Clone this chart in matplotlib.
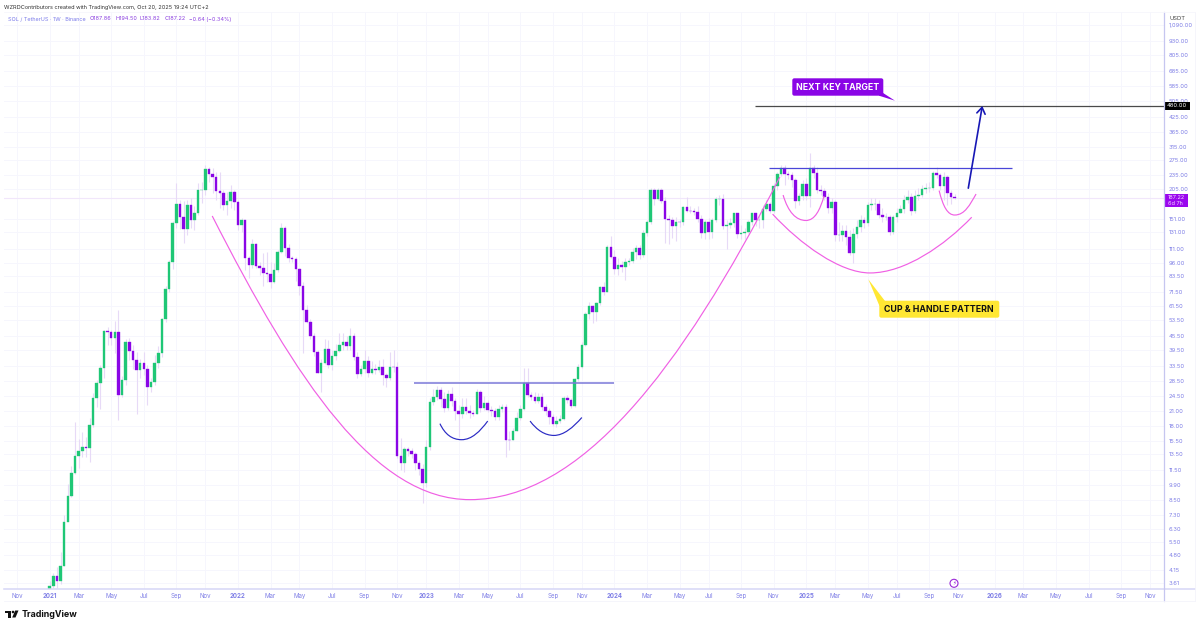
import matplotlib
matplotlib.use("Agg")
import matplotlib.pyplot as plt
import numpy as np
from matplotlib.path import Path
from matplotlib.patches import PathPatch, FancyBboxPatch, Polygon, Rectangle, Circle
from matplotlib.transforms import Affine2D

plt.rcParams['font.family'] = ['Inter', 'DejaVu Sans']

closes = [3.5,3.88,3.69,4.32,6.77,8.8,11.2,13.3,14.0,14.6,
14.47,18.2,24.0,28.0,32.6,47.6,47.2,44.5,47.2,24.7,
28.9,42.6,39.0,35.5,32.0,34.5,32.5,26.8,28.4,34.4,
38.1,54.0,73.3,96.7,143.5,175,153,136,174,148,
160,202,203,250,238,232,201,197,174,181,
198,178,141,148,100.5,94,116,93,91,86.5,
85.3,79,89,107,137,111.3,100.5,99.5,90,75.8,
59,52.2,45.4,38.6,31,34.5,39.7,33.7,36.9,39,
41.3,42.5,40.9,45.3,36.7,30.7,32.3,35.2,31.2,32.3,
32.1,33.1,30.4,29.5,33.1,32.9,13.35,12.4,14.3,14.0,
13.6,12.4,11.6,10.1,14.6,23.1,24.3,26.2,23.7,21.7,
25,23.4,21.1,20.5,22,21.1,20.7,20.5,25.6,21.8,
22.9,21.3,21.1,19.9,21.4,22,15.7,15.6,17.1,19.6,
21.4,28,24.9,24.4,23.4,24.3,22,21.1,19.8,18.5,
19,19.5,24,23.5,22.2,29.1,32.9,41.3,56.6,61.6,
57.8,63.3,75,71.2,112.4,102,90,94,91.8,96.6,
97.3,107,112,104,130,145,202,184.5,202,180.5,
151,148,139.5,146,145,170,163,162.5,162,151,
130,146,132,148,184.5,185,139.5,141.5,143.5,159,
129,130,131,145,159,148,148.5,167,176,163,
211,238,254,237,236,224,181,190,214,190,
254,241,203,201,189,169,179,127,128,133.5,
125,106,129,138,148,144,174,175.5,176,157,
153,153.5,132,153,160,167,182,189,162.5,190,
192,205,205.5,206,240,235,211,232,196,187.86,
187.22]

highs = [3.7,4.0,4.25,4.95,7.25,10,12,18.8,15.8,16.9,
16.1,19.6,25.3,29,33.6,48,50,48,53,59,
30,44,44.5,41.3,38.5,36,38.5,33.6,29.4,37.3,
41,54.5,76,99,147,217,182,180,182,186,
172,217,219,260,255,253,243,243,202,198,
212,203,182,152,148,103,123,117,97,106,
107,97,96,109,144,140,116,103,102,91,
79,62,54,47,39.3,36,44,43.5,39.5,42,
47,47,45.5,49,47,38.5,33.6,39.5,37,35,
34.2,35.5,36,31,38.5,39.5,34.7,15.9,14.6,14.6,
14.4,13.8,12.8,12.2,15.6,24,26.4,27.3,27,25.5,
26,27,24,22.3,24,24,22.3,21.2,26.5,26,
24.5,23.5,22.2,21.7,22.3,22.6,22.6,17.2,17.7,20.8,
22.3,32.6,32.6,25.5,25.5,25.2,25.2,22.6,21.8,20.4,
20,20.2,24.5,24.8,24,29.4,34,42.6,58,64,
62,64,76,79,115,126,109,100.5,98,100.5,
100.5,112,115,115,134,148,206,206,206,206,
188,156,153,153,151,172,188,172,168,172,
156,148,152,152,188,192,194,148,152,160,
160,141,137,148,160,160,156,173,182,179,
217,243,260,260,246,243,228,197,223,228,
296,262,256,212,206,196,186,182,145,141,
141,134,137,148,156,154,179,186,186,182,
168,160,157,157,168,173,192,203,196,203,
206,212,217,220,245,256,240,243,235,203,
194.5]

lows = [3.2,3.45,3.45,3.6,4.3,6.8,8.7,11,11.8,13.2,
13.2,12.5,17.8,22,21.4,29.4,41.5,41.5,38,19.2,
24.2,27.4,35.5,32.5,20.5,29.4,30.3,22.3,25.5,27.4,
32.6,36.6,52.3,71,90,137,135,117,127,137,
134,156,177,192,219,196,182,168,165,156,
168,165,134,131,89,82,91,91,84.5,76,
79,74,78,87,106,103,97,97,80,69,
38,52,44,37,31,25.6,34,32.6,32,35.5,
38.5,39.3,39.3,39.3,35.5,29.4,30,31,29.8,30.7,
30.7,31.5,27.4,26.8,28.9,31.5,13,11.5,11.3,13.3,
13,11.5,10.9,8.2,9.7,14.2,22.4,23.5,22,20.8,
21.2,22.2,19.2,16.1,19.6,20.5,19.6,20,20.5,20.8,
21.2,20.8,20,19.2,19.2,20.8,13.2,14.2,15.6,17.2,
19.3,21.2,24.2,23.5,22.8,22.8,21.2,20.2,18.4,18,
17.8,18.6,19.2,22.8,21.7,22,28.6,32.6,41,54,
52,53,62.3,69,71,100.5,85.5,84.5,87,80.5,
94,95.5,100,100,102,126,143,173,182,177,
117,116,124,120,138,141,161,159,156,145,
124,123,122,124,145,173,136,110,137,138,
124,122,122,130,141,140,137,137,163,159,
159,202,233,212,226,208,169,173,182,182,
170,228,197,192,182,160,160,120,120,120,
115,104,96,124,131,137,140,165,165,152,
145,148,127,129,145,159,160,177,156,159,
182,188,196,198,202,228,202,182,173,175,
183.82]

first_open = 3.2

y_ticks = [1090,930,805,685,585,505,425,365,315,275,235,205,151,131,111,96,83.5,71.5,61.5,53.5,
           45.5,39.5,33.5,28.5,24.5,21,18,15.5,13.5,11.5,9.9,8.5,7.3,6.3,5.5,4.8,4.15,3.61]
x_ticks = [-9,0,8,17,26,35,43,52,61,69,78,87,96,104,113,121,130,139,147,156,165,174,182,191,200,
           209,217,226,234,243,251,261,269,278,287,296,304]
x_labels = ['Nov','2021','Mar','May','Jul','Sep','Nov','2022','Mar','May','Jul','Sep','Nov','2023','Mar','May','Jul','Sep','Nov',
            '2024','Mar','May','Jul','Sep','Nov','2025','Mar','May','Jul','Sep','Nov','2026','Mar','May','Jul','Sep','Nov']

main_cup_x = [44.9,68.3,89.9,116.1,146.5,174.1,201.7]
main_cup_p = [155,28.2,8.5,8.5,8.5,31.3,231]
big_cup_x = [199.7,207.3,218.3,226.6,236.3,247.3,254.7]
big_cup_p = [158,116.3,86.5,86.5,86.5,115,153]
handle1_x = [202.6,204,206.2,208.9,211.4,212.8,213.9]
handle1_p = [192,161,148,148,148,165,190]
handle2_x = [245.7,246.8,248.1,250,252.8,254.2,255.9]
handle2_p = [201,170,156.5,156.5,156.5,174,194]
small1_x = [107.8,109.2,111.1,113.8,116.6,118.9,121]
small1_p = [18.5,16.6,15.7,15.7,15.7,17.1,19]
small2_x = [132.7,134.6,136.8,139.3,142,144.6,147]
small2_p = [19,17.3,16.4,16.4,16.4,17.8,19.7]

PURPLE = '#8a05e6'
GREEN = '#1fc776'
WICK = '#e7daf7'
TICK = '#7f7fe6'
GRID = '#f6f6fd'

fig = plt.figure(figsize=(12, 6.28), dpi=100, facecolor='white')
ax = fig.add_axes([4/1200, 1-589/628, (1164.3-4)/1200, (589-12)/628])
px = Affine2D().scale(1/1200, -1/628).translate(0, 1) + fig.transFigure

ax.set_yscale('log')
ax.set_xlim(-12.62, 307.9)
ax.set_ylim(3.406, 1250)
for s in ax.spines.values():
    s.set_visible(False)
ax.set_facecolor('white')

ax.yaxis.tick_right()
ax.set_yticks(y_ticks)
ax.set_yticklabels([f'{v:,.2f}' for v in y_ticks], fontsize=4.2, color=TICK)
ax.minorticks_off()
ax.tick_params(axis='y', length=0, pad=3.0)
ax.set_xticks(x_ticks)
ax.set_xticklabels(x_labels, fontsize=4.4, color=TICK)
ax.tick_params(axis='x', length=0, pad=2.6)
for t in ax.get_xticklabels():
    if t.get_text().isdigit():
        t.set_fontweight('bold')
ax.grid(True, color=GRID, lw=0.7, zorder=0)
ax.set_axisbelow(True)

idx = np.arange(len(closes))
c = np.array(closes, float)
o = np.r_[first_open, c[:-1]]
up = c >= o
ax.axhline(closes[-1], color='#f1e6fb', lw=0.8, zorder=1)
ax.vlines(idx, lows, highs, color=WICK, lw=0.8, zorder=2)
ax.bar(idx, np.abs(c-o), bottom=np.minimum(o, c), width=0.7,
       color=[GREEN if u else PURPLE for u in up],
       edgecolor=[GREEN if u else PURPLE for u in up], lw=0.25, zorder=3)

def curve(xs, ps, color, lw=0.85):
    codes = [Path.MOVETO] + [Path.CURVE4]*6
    ax.add_patch(PathPatch(Path(np.column_stack([xs, ps]), codes), fc='none', ec=color, lw=lw, zorder=4))

curve(main_cup_x, main_cup_p, '#f060e4')
curve(big_cup_x, big_cup_p, '#f060e4')
curve(handle1_x, handle1_p, '#f060e4')
curve(handle2_x, handle2_p, '#f060e4')
curve(small1_x, small1_p, '#2a2ac4')
curve(small2_x, small2_p, '#2a2ac4')

# horizontal levels
ax.hlines(28, (414.3-49.7)/3.62, (614-49.7)/3.62, color='#7a78d8', lw=1.1, zorder=5)
ax.hlines(254, (769-49.7)/3.62, (1012-49.7)/3.62, color='#4a46d8', lw=0.9, zorder=5)
ax.hlines(480, (755-49.7)/3.62, 307.9, color='#4a4a4a', lw=0.9, zorder=5)
ax.annotate('', xy=((982.3-49.7)/3.62, 478), xytext=((968.3-49.7)/3.62, 206),
            arrowprops=dict(arrowstyle='->,head_length=0.45,head_width=0.3', color='#1717b5', lw=1.2,
                            shrinkA=0, shrinkB=0), zorder=6)

# panels (pixel space)
def line(xs, ys, color, lw=0.8):
    fig.add_artist(plt.Line2D(xs, ys, color=color, lw=lw, transform=px))
line([4, 1195], [589, 589], '#d6d6f6', 1.1)
line([1164.3, 1164.3], [12, 601], '#c6c6f0', 0.9)
line([4, 1195], [601, 601], '#f4f4fb', 0.6)
line([1195, 1195], [12, 601], '#f4f4fb', 0.6)
line([4, 1195], [12, 12], '#f6f6fc', 0.6)

# price tags
fig.add_artist(Rectangle((1164.5, 193.7), 23, 13.3, fc='#9a07ee', ec='none', transform=px))
fig.text(1176, 197.4, '187.22', transform=px, fontsize=4.0, color='#f3d5ff', ha='center', va='center')
fig.text(1175, 203.4, '6d 7h', transform=px, fontsize=4.0, color='#f3d5ff', ha='center', va='center')
fig.add_artist(Rectangle((1164.5, 102), 25, 7.5, fc='black', ec='none', transform=px))
fig.text(1176.5, 105.8, '480.00', transform=px, fontsize=4.2, color='white', ha='center', va='center')
fig.text(1177, 19, 'USDT', transform=px, fontsize=4.2, color='#444444', ha='center', va='center')

# headers
fig.text(4, 7, 'WZRDContributors created with TradingView.com, Oct 20, 2025 19:24 UTC+2', transform=px,
         fontsize=4.0, color='#333333', ha='left', va='center')
parts = [(8, 'SOL / TetherUS · 1W · Binance', '#7c7cea'), (90, 'O187.86', '#8a3fe0'), (115, 'H194.50', '#8a3fe0'),
         (140, 'L183.82', '#8a3fe0'), (164.5, 'C187.22', '#8a3fe0'), (189, '−0.64 (−0.34%)', '#8a3fe0')]
for x0, s, col in parts:
    fig.text(x0, 19, s, transform=px, fontsize=3.95, color=col, ha='left', va='center')

# callouts
fig.add_artist(FancyBboxPatch((794.3, 80.3), 87, 13.4, boxstyle='round,pad=2,rounding_size=2',
                              fc=PURPLE, ec='none', transform=px))
fig.add_artist(Polygon([(880, 91), (895, 100.7), (879, 95.7)], closed=True, fc=PURPLE, ec='none', transform=px))
fig.text(837.5, 87, 'NEXT KEY TARGET', transform=px, fontsize=6.3, fontweight='bold', color='white', ha='center', va='center')
fig.add_artist(FancyBboxPatch((881.3, 302.7), 116, 13, boxstyle='round,pad=2,rounding_size=2',
                              fc='#ffe733', ec='none', transform=px))
fig.add_artist(Polygon([(868.3, 279.3), (879.5, 306), (885, 301)], closed=True, fc='#ffe733', ec='none', transform=px))
fig.text(939, 309, 'CUP & HANDLE PATTERN', transform=px, fontsize=6.3, fontweight='bold', color='#111111', ha='center', va='center')

# lightning marker
fig.add_artist(Circle((954, 583.3), 4, fc='white', ec='#9a2ad8', lw=0.8, transform=px))
fig.text(954, 583.3, '⚡', transform=px, fontsize=4, color='#9a2ad8', ha='center', va='center', family='DejaVu Sans')

# TradingView mark
fig.add_artist(Polygon([(5, 610.5), (11.3, 610.5), (11.3, 617.5), (8, 617.5), (8, 613.3), (5, 613.3)], closed=True,
                       fc='#111111', ec='none', transform=px))
fig.add_artist(Circle((13, 612), 1.3, fc='#111111', ec='none', transform=px))
fig.add_artist(Polygon([(15.2, 610.5), (18.5, 610.5), (15.5, 617.5), (12.2, 617.5)], closed=True, fc='#111111', ec='none', transform=px))
fig.text(21.5, 614.3, 'TradingView', transform=px, fontsize=6.4, fontweight='bold', color='#111111', ha='left', va='center')

fig.savefig('out.png', dpi=100)
